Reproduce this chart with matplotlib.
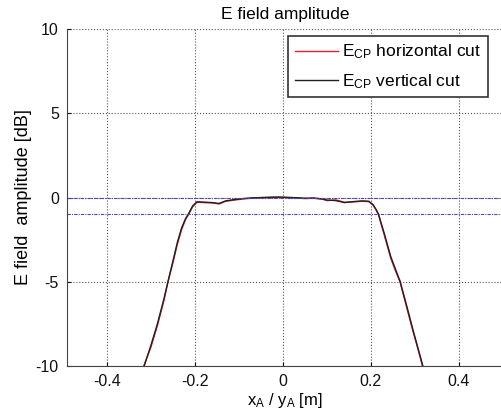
import numpy as np
import matplotlib.pyplot as plt

plt.rcParams['font.family'] = ['Liberation Sans', 'DejaVu Sans']
plt.rcParams['mathtext.fontset'] = 'custom'
plt.rcParams['mathtext.rm'] = 'Liberation Sans'
plt.rcParams['mathtext.it'] = 'Liberation Sans'
plt.rcParams['axes.unicode_minus'] = False

# horizontal cut (red)
x_h = [-0.316, -0.30, -0.285, -0.27, -0.261, -0.25, -0.24, -0.23, -0.221, -0.214,
       -0.205, -0.195, -0.18, -0.16, -0.145, -0.13, -0.11, -0.09, -0.07, -0.05,
       -0.03, -0.01, 0.01, 0.03, 0.05, 0.07, 0.09, 0.10, 0.12, 0.14, 0.16,
       0.18, 0.195, 0.205, 0.212, 0.217, 0.23, 0.245, 0.255, 0.266, 0.28,
       0.295, 0.307, 0.317]
y_h = [-10.0, -8.9, -7.6, -6.1, -5.0, -3.9, -2.8, -1.9, -1.3, -1.0,
       -0.55, -0.28, -0.30, -0.32, -0.38, -0.22, -0.15, -0.08, -0.04, -0.02,
       0.0, 0.02, 0.0, -0.02, -0.06, -0.04, -0.10, -0.18, -0.14, -0.28, -0.26,
       -0.22, -0.24, -0.45, -0.75, -1.0, -2.2, -3.6, -4.3, -5.0, -6.4,
       -7.9, -9.0, -10.0]

# vertical cut (black)
x_v = [-0.315, -0.30, -0.285, -0.27, -0.261, -0.25, -0.24, -0.23, -0.221, -0.214,
       -0.205, -0.195, -0.18, -0.16, -0.145, -0.13, -0.11, -0.09, -0.07, -0.05,
       -0.03, -0.01, 0.01, 0.03, 0.05, 0.07, 0.09, 0.10, 0.12, 0.14, 0.16,
       0.18, 0.195, 0.205, 0.212, 0.217, 0.23, 0.245, 0.255, 0.266, 0.28,
       0.295, 0.307, 0.318]
y_v = [-10.0, -8.8, -7.5, -6.0, -5.0, -3.8, -2.7, -1.8, -1.25, -0.95,
       -0.5, -0.25, -0.27, -0.30, -0.35, -0.20, -0.12, -0.06, -0.02, 0.0,
       0.02, 0.03, 0.01, -0.01, -0.04, -0.03, -0.08, -0.15, -0.18, -0.30, -0.24,
       -0.20, -0.22, -0.42, -0.72, -0.98, -2.1, -3.5, -4.2, -4.95, -6.3,
       -7.8, -8.95, -10.0]

ref_levels = [0, -1]

fig = plt.figure(figsize=(5.01, 4.18), dpi=100)
ax = fig.add_axes([0.134, 0.1244, 0.870, 0.806])

ax.plot(x_h, y_h, color='#e0202a', lw=1.0, label=r'E$_{\rm CP}$ horizontal cut')
ax.plot(x_v, y_v, color='#202020', lw=1.0, label=r'E$_{\rm CP}$ vertical cut')
for lv in ref_levels:
    ax.axhline(lv, color='#4a4ab0', lw=0.8, ls=(0, (3, 1, 1, 1)))

ax.set_xlim(-0.49, 0.5)
ax.set_ylim(-10, 10)
ax.set_xticks([-0.4, -0.2, 0, 0.2, 0.4])
ax.set_xticklabels(['-0.4', '-0.2', '0', '0.2', '0.4'])
ax.set_yticks([-10, -5, 0, 5, 10])
ax.grid(True, color='#555555', ls=':', lw=0.8)
ax.spines['top'].set_visible(False)
ax.spines['right'].set_visible(False)
ax.spines['left'].set_color('#444444')
ax.spines['bottom'].set_color('#444444')
ax.tick_params(direction='in', length=3, labelsize=11.5, colors='#111111', pad=6)

ax.set_title('E field amplitude', fontsize=12.5, pad=7)
ax.set_xlabel(r'x$_{\rm A}$ / y$_{\rm A}$ [m]', fontsize=12, labelpad=1)
ax.set_ylabel('E field  amplitude [dB]', fontsize=13, labelpad=3)

leg = ax.legend(loc='upper right', bbox_to_anchor=(0.985, 1.006), fontsize=12.5,
                fancybox=False, framealpha=1, edgecolor='#333333',
                handlelength=2.5, handletextpad=0.2, borderpad=0.4, labelspacing=0.6)
leg.get_frame().set_linewidth(1.2)

fig.savefig('out.png', dpi=100)
